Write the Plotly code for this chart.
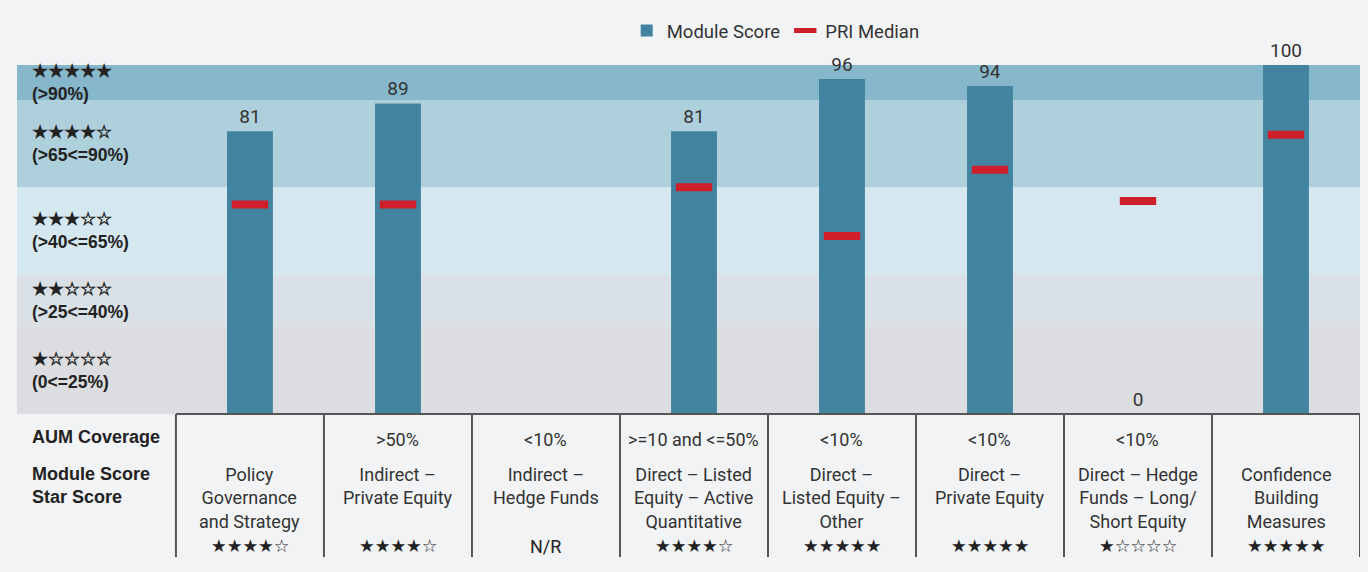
import plotly.graph_objects as go

categories = [
    "Policy<br>Governance<br>and Strategy",
    "Indirect –<br>Private Equity",
    "Indirect –<br>Hedge Funds",
    "Direct – Listed<br>Equity – Active<br>Quantitative",
    "Direct –<br>Listed Equity –<br>Other",
    "Direct –<br>Private Equity",
    "Direct – Hedge<br>Funds – Long/<br>Short Equity",
    "Confidence<br>Building<br>Measures",
]
module_score = [81, 89, None, 81, 96, 94, 0, 100]
pri_median = [60, 60, None, 65, 51, 70, 61, 80]
aum_coverage = ["", ">50%", "<10%", ">=10 and <=50%", "<10%", "<10%", "<10%", ""]
star_score = ["★★★★☆", "★★★★☆", "N/R", "★★★★☆", "★★★★★", "★★★★★", "★☆☆☆☆", "★★★★★"]

band_edges = [0, 25, 40, 65, 90, 100]
band_colors = ["#dcdde0", "#d9e0e6", "#d5e8f0", "#aecfdc", "#87b7cb"]
band_stars = ["★☆☆☆☆", "★★☆☆☆", "★★★☆☆", "★★★★☆", "★★★★★"]
band_labels = ["(0<=25%)", "(>25<=40%)", "(>40<=65%)", "(>65<=90%)", "(>90%)"]

FONT = "Roboto, Liberation Sans, sans-serif"
BOLD = "Liberation Sans, Arial, sans-serif"
xs = list(range(len(categories)))

fig = go.Figure()
fig.add_trace(go.Bar(
    x=xs, y=module_score, name="Module Score",
    marker=dict(color="#42839f", line=dict(width=0)),
    width=0.31,
    text=[("" if v is None else str(v)) for v in module_score],
    textposition="outside", cliponaxis=False,
    textfont=dict(family=FONT, size=19, color="#333333"),
    hoverinfo="skip",
))
fig.add_trace(go.Scatter(
    x=xs, y=pri_median, name="PRI Median", mode="markers",
    marker=dict(symbol="line-ew", size=26, color="#cf1f2a",
                line=dict(color="#cf1f2a", width=8)),
    hoverinfo="skip",
))

shapes = []
for i, c in enumerate(band_colors):
    shapes.append(dict(type="rect", xref="paper", yref="y", x0=0, x1=1,
                       y0=band_edges[i], y1=band_edges[i + 1],
                       fillcolor=c, line=dict(width=0), layer="below"))
n = len(categories)
for k in range(n + 1):
    shapes.append(dict(type="line", xref="x", yref="paper", x0=k - 0.5, x1=k - 0.5,
                       y0=0, y1=-0.41, line=dict(color="#555555", width=2)))
shapes.append(dict(type="line", xref="x", yref="paper", x0=-0.5, x1=n - 0.5,
                   y0=0, y1=0, line=dict(color="#555555", width=2)))

ann = []
plot_h = 349.0
def py(p):
    return (414 - p) / plot_h

for i in range(len(band_colors)):
    mid = (band_edges[i] + band_edges[i + 1]) / 2
    ann.append(dict(xref="paper", yref="y", x=0.0095, y=mid, xanchor="left", yanchor="middle",
                    text=f"<b>{band_stars[i]}</b><br><b>{band_labels[i]}</b>", align="left",
                    showarrow=False, font=dict(family=BOLD, size=17.5, color="#222222")))

ann.append(dict(xref="paper", yref="paper", x=0.0095, y=py(437), xanchor="left", yanchor="middle",
                text="<b>AUM Coverage</b>", showarrow=False, align="left",
                font=dict(family=BOLD, size=18, color="#222222")))
ann.append(dict(xref="paper", yref="paper", x=0.0095, y=py(485), xanchor="left", yanchor="middle",
                text="<b>Module Score</b><br><b>Star Score</b>", showarrow=False, align="left",
                font=dict(family=BOLD, size=18, color="#222222")))

for i in range(n):
    if aum_coverage[i]:
        ann.append(dict(xref="x", yref="paper", x=i, y=py(439), xanchor="center", yanchor="middle",
                        text=aum_coverage[i], showarrow=False,
                        font=dict(family=FONT, size=18, color="#333333")))
    ann.append(dict(xref="x", yref="paper", x=i, y=py(462), xanchor="center", yanchor="top",
                    text=categories[i], showarrow=False, align="center",
                    font=dict(family=FONT, size=18, color="#333333")))
    is_stars = star_score[i] != "N/R"
    ann.append(dict(xref="x", yref="paper", x=i, y=py(546), xanchor="center", yanchor="middle",
                    text=star_score[i], showarrow=False,
                    font=dict(family="DejaVu Sans, sans-serif" if is_stars else FONT,
                              size=17.5 if is_stars else 18, color="#222222")))

fig.update_layout(
    width=1368, height=572,
    margin=dict(l=17, r=8, t=65, b=158),
    paper_bgcolor="#f2f3f5", plot_bgcolor="#f2f3f5",
    barmode="overlay",
    showlegend=True,
    legend=dict(orientation="h", x=0.454, y=py(31), xanchor="left", yanchor="middle",
                font=dict(family=FONT, size=18.5, color="#333333"),
                bgcolor="rgba(0,0,0,0)", traceorder="normal", itemwidth=30),
    xaxis=dict(range=[-1.574, n - 0.5], showticklabels=False, showgrid=False,
               zeroline=False, showline=False, fixedrange=True),
    yaxis=dict(range=[0, 100], showticklabels=False, showgrid=False,
               zeroline=False, showline=False, fixedrange=True),
    shapes=shapes, annotations=ann,
)

fig.write_html("out.html", config={"displayModeBar": False},
               post_script="document.body.style.margin='0';")
